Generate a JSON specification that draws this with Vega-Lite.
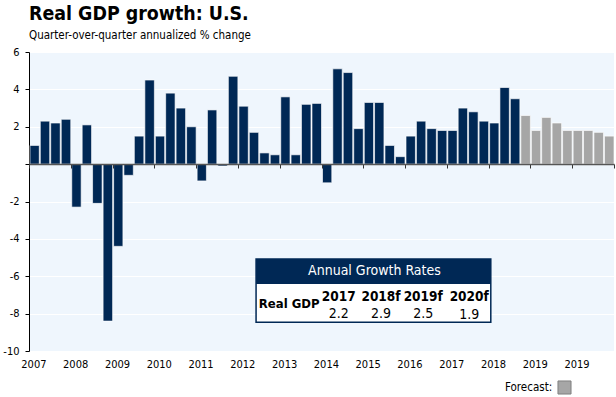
{
  "$schema": "https://vega.github.io/schema/vega-lite/v6.json",
  "width": 585,
  "height": 299,
  "autosize": "none",
  "padding": {"left": 29, "top": 52, "right": 2, "bottom": 46},
  "background": "white",
  "config": {
    "view": {"fill": "#EFF6FD", "stroke": null},
    "font": "DejaVu Sans Condensed"
  },
  "title": {
    "text": "Real GDP growth: U.S.",
    "subtitle": "Quarter-over-quarter  annualized % change",
    "anchor": "start",
    "frame": "group",
    "font": "DejaVu Sans Condensed",
    "fontSize": 19.4,
    "fontWeight": "bold",
    "color": "black",
    "subtitleFont": "DejaVu Sans Condensed",
    "subtitleFontSize": 11.5,
    "subtitleColor": "black",
    "subtitlePadding": 6,
    "offset": 3.5
  },
  "layer": [
    {
      "data": {
        "values": [
          {"date": "2007-01-01", "gdp": 1.0, "type": "Actual"},
          {"date": "2007-04-01", "gdp": 2.3, "type": "Actual"},
          {"date": "2007-07-01", "gdp": 2.2, "type": "Actual"},
          {"date": "2007-10-01", "gdp": 2.4, "type": "Actual"},
          {"date": "2008-01-01", "gdp": -2.3, "type": "Actual"},
          {"date": "2008-04-01", "gdp": 2.1, "type": "Actual"},
          {"date": "2008-07-01", "gdp": -2.1, "type": "Actual"},
          {"date": "2008-10-01", "gdp": -8.4, "type": "Actual"},
          {"date": "2009-01-01", "gdp": -4.4, "type": "Actual"},
          {"date": "2009-04-01", "gdp": -0.6, "type": "Actual"},
          {"date": "2009-07-01", "gdp": 1.5, "type": "Actual"},
          {"date": "2009-10-01", "gdp": 4.5, "type": "Actual"},
          {"date": "2010-01-01", "gdp": 1.5, "type": "Actual"},
          {"date": "2010-04-01", "gdp": 3.8, "type": "Actual"},
          {"date": "2010-07-01", "gdp": 3.0, "type": "Actual"},
          {"date": "2010-10-01", "gdp": 2.0, "type": "Actual"},
          {"date": "2011-01-01", "gdp": -0.9, "type": "Actual"},
          {"date": "2011-04-01", "gdp": 2.9, "type": "Actual"},
          {"date": "2011-07-01", "gdp": -0.1, "type": "Actual"},
          {"date": "2011-10-01", "gdp": 4.7, "type": "Actual"},
          {"date": "2012-01-01", "gdp": 3.1, "type": "Actual"},
          {"date": "2012-04-01", "gdp": 1.7, "type": "Actual"},
          {"date": "2012-07-01", "gdp": 0.6, "type": "Actual"},
          {"date": "2012-10-01", "gdp": 0.5, "type": "Actual"},
          {"date": "2013-01-01", "gdp": 3.6, "type": "Actual"},
          {"date": "2013-04-01", "gdp": 0.5, "type": "Actual"},
          {"date": "2013-07-01", "gdp": 3.2, "type": "Actual"},
          {"date": "2013-10-01", "gdp": 3.25, "type": "Actual"},
          {"date": "2014-01-01", "gdp": -1.0, "type": "Actual"},
          {"date": "2014-04-01", "gdp": 5.1, "type": "Actual"},
          {"date": "2014-07-01", "gdp": 4.9, "type": "Actual"},
          {"date": "2014-10-01", "gdp": 1.9, "type": "Actual"},
          {"date": "2015-01-01", "gdp": 3.3, "type": "Actual"},
          {"date": "2015-04-01", "gdp": 3.3, "type": "Actual"},
          {"date": "2015-07-01", "gdp": 1.0, "type": "Actual"},
          {"date": "2015-10-01", "gdp": 0.4, "type": "Actual"},
          {"date": "2016-01-01", "gdp": 1.5, "type": "Actual"},
          {"date": "2016-04-01", "gdp": 2.3, "type": "Actual"},
          {"date": "2016-07-01", "gdp": 1.9, "type": "Actual"},
          {"date": "2016-10-01", "gdp": 1.8, "type": "Actual"},
          {"date": "2017-01-01", "gdp": 1.8, "type": "Actual"},
          {"date": "2017-04-01", "gdp": 3.0, "type": "Actual"},
          {"date": "2017-07-01", "gdp": 2.8, "type": "Actual"},
          {"date": "2017-10-01", "gdp": 2.3, "type": "Actual"},
          {"date": "2018-01-01", "gdp": 2.2, "type": "Actual"},
          {"date": "2018-04-01", "gdp": 4.1, "type": "Actual"},
          {"date": "2018-07-01", "gdp": 3.5, "type": "Actual"},
          {"date": "2018-10-01", "gdp": 2.6, "type": "Forecast"},
          {"date": "2019-01-01", "gdp": 1.8, "type": "Forecast"},
          {"date": "2019-04-01", "gdp": 2.5, "type": "Forecast"},
          {"date": "2019-07-01", "gdp": 2.2, "type": "Forecast"},
          {"date": "2019-10-01", "gdp": 1.8, "type": "Forecast"},
          {"date": "2020-01-01", "gdp": 1.8, "type": "Forecast"},
          {"date": "2020-04-01", "gdp": 1.8, "type": "Forecast"},
          {"date": "2020-07-01", "gdp": 1.7, "type": "Forecast"},
          {"date": "2020-10-01", "gdp": 1.5, "type": "Forecast"}
        ]
      },
      "mark": {"type": "bar", "stroke": "white", "strokeWidth": 0.8, "strokeOpacity": 0.8},
      "encoding": {
        "x": {
          "field": "date",
          "timeUnit": "utcyearquarter",
          "type": "temporal",
          "scale": {
            "type": "utc",
            "nice": false,
            "domain": [
              {"year": 2007, "month": 1, "date": 1, "utc": true},
              {"year": 2021, "month": 1, "date": 1, "utc": true}
            ]
          },
          "axis": {
            "title": null,
            "tickCount": 30,
            "values": [
              {"year": 2007, "month": 1, "date": 1, "utc": true},
              {"year": 2008, "month": 1, "date": 1, "utc": true},
              {"year": 2009, "month": 1, "date": 1, "utc": true},
              {"year": 2010, "month": 1, "date": 1, "utc": true},
              {"year": 2011, "month": 1, "date": 1, "utc": true},
              {"year": 2012, "month": 1, "date": 1, "utc": true},
              {"year": 2013, "month": 1, "date": 1, "utc": true},
              {"year": 2014, "month": 1, "date": 1, "utc": true},
              {"year": 2015, "month": 1, "date": 1, "utc": true},
              {"year": 2016, "month": 1, "date": 1, "utc": true},
              {"year": 2017, "month": 1, "date": 1, "utc": true},
              {"year": 2018, "month": 1, "date": 1, "utc": true},
              {"year": 2019, "month": 1, "date": 1, "utc": true},
              {"year": 2020, "month": 1, "date": 1, "utc": true},
              {"year": 2021, "month": 1, "date": 1, "utc": true}
            ],
            "labelExpr": "utcyear(datum.value) >= 2021 ? '' : (utcyear(datum.value) == 2020 ? '2019' : '' + utcyear(datum.value))",
            "offset": -187,
            "tickSize": 4,
            "tickColor": "#333333",
            "domainColor": "#555555",
            "domainWidth": 1.5,
            "labelPadding": 190,
            "labelOffset": 4.4,
            "labelFont": "DejaVu Sans Condensed",
            "labelFontSize": 11,
            "labelColor": "black",
            "labelOverlap": false,
            "labelFlush": false,
            "labelBound": false,
            "grid": false,
            "zindex": 1
          }
        },
        "y": {
          "field": "gdp",
          "type": "quantitative",
          "scale": {"domain": [-10, 6], "nice": false},
          "axis": {
            "title": null,
            "tickCount": 30,
            "values": [-10, -8, -6, -4, -2, 0, 2, 4, 6],
            "labelExpr": "datum.value == 0 ? '' : '' + datum.value",
            "labelOverlap": false,
            "labelFlush": false,
            "grid": true,
            "gridColor": "white",
            "gridWidth": 1.2,
            "tickSize": 4,
            "tickColor": "black",
            "domainColor": "black",
            "labelPadding": 6,
            "labelFont": "DejaVu Sans Condensed",
            "labelFontSize": 11,
            "labelColor": "black"
          }
        },
        "color": {
          "field": "type",
          "type": "nominal",
          "scale": {"domain": ["Actual", "Forecast"], "range": ["#002855", "#A6A6A6"]},
          "legend": {
            "values": ["Forecast"],
            "title": "Forecast:",
            "titleOrient": "left",
            "labelExpr": "''",
            "orient": "none",
            "legendX": 476,
            "legendY": 328,
            "symbolType": "square",
            "symbolSize": 170,
            "symbolStrokeColor": "#7f7f7f",
            "symbolStrokeWidth": 1,
            "titleFont": "DejaVu Sans Condensed",
            "titleFontSize": 11.5,
            "titleFontWeight": "normal",
            "titleColor": "black",
            "titlePadding": 4
          }
        }
      }
    },
    {
      "data": {"values": [{"title": "Annual Growth Rates"}]},
      "mark": {"type": "rect", "fill": "white", "stroke": "#002855", "strokeWidth": 1.5},
      "encoding": {
        "x": {"datum": {"year": 2012, "month": 6, "date": 8, "utc": true}, "type": "temporal"},
        "x2": {"datum": {"year": 2018, "month": 1, "date": 20, "utc": true}},
        "y": {"datum": -5.08, "type": "quantitative"},
        "y2": {"datum": -8.46}
      }
    },
    {
      "data": {"values": [{"title": "Annual Growth Rates"}]},
      "mark": {"type": "rect", "fill": "#002855"},
      "encoding": {
        "x": {"datum": {"year": 2012, "month": 6, "date": 8, "utc": true}, "type": "temporal"},
        "x2": {"datum": {"year": 2018, "month": 1, "date": 20, "utc": true}},
        "y": {"datum": -5.08, "type": "quantitative"},
        "y2": {"datum": -6.42}
      }
    },
    {
      "data": {"values": [{"title": "Annual Growth Rates"}]},
      "mark": {"type": "text", "color": "white", "fontSize": 14, "font": "DejaVu Sans Condensed", "align": "center", "baseline": "middle"},
      "encoding": {
        "x": {"datum": {"year": 2015, "month": 4, "date": 9, "utc": true}, "type": "temporal"},
        "y": {"datum": -5.74, "type": "quantitative"},
        "text": {"field": "title"}
      }
    },
    {
      "data": {"values": [{"row": "Real GDP"}]},
      "mark": {"type": "text", "color": "black", "fontSize": 13, "fontWeight": "bold", "font": "DejaVu Sans Condensed", "align": "left", "baseline": "middle"},
      "encoding": {
        "x": {"datum": {"year": 2012, "month": 7, "date": 2, "utc": true}, "type": "temporal"},
        "y": {"datum": -7.46, "type": "quantitative"},
        "text": {"field": "row"}
      }
    },
    {
      "data": {"values": [{"year": "2017", "rate": 2.2}]},
      "encoding": {"x": {"datum": {"year": 2014, "month": 6, "date": 1, "utc": true}, "type": "temporal"}},
      "layer": [
        {"mark": {"type": "text", "color": "black", "fontSize": 13.5, "fontWeight": "bold", "font": "DejaVu Sans Condensed", "baseline": "middle"},
         "encoding": {"y": {"datum": -7.12, "type": "quantitative"}, "text": {"field": "year"}}},
        {"mark": {"type": "text", "color": "black", "fontSize": 14, "font": "DejaVu Sans Condensed", "baseline": "middle"},
         "encoding": {"y": {"datum": -8.0, "type": "quantitative"}, "text": {"field": "rate", "format": ".1f"}}}
      ]
    },
    {
      "data": {"values": [{"year": "2018f", "rate": 2.9}]},
      "encoding": {"x": {"datum": {"year": 2015, "month": 6, "date": 5, "utc": true}, "type": "temporal"}},
      "layer": [
        {"mark": {"type": "text", "color": "black", "fontSize": 13.5, "fontWeight": "bold", "font": "DejaVu Sans Condensed", "baseline": "middle"},
         "encoding": {"y": {"datum": -7.12, "type": "quantitative"}, "text": {"field": "year"}}},
        {"mark": {"type": "text", "color": "black", "fontSize": 14, "font": "DejaVu Sans Condensed", "baseline": "middle"},
         "encoding": {"y": {"datum": -8.0, "type": "quantitative"}, "text": {"field": "rate", "format": ".1f"}}}
      ]
    },
    {
      "data": {"values": [{"year": "2019f", "rate": 2.5}]},
      "encoding": {"x": {"datum": {"year": 2016, "month": 6, "date": 8, "utc": true}, "type": "temporal"}},
      "layer": [
        {"mark": {"type": "text", "color": "black", "fontSize": 13.5, "fontWeight": "bold", "font": "DejaVu Sans Condensed", "baseline": "middle"},
         "encoding": {"y": {"datum": -7.12, "type": "quantitative"}, "text": {"field": "year"}}},
        {"mark": {"type": "text", "color": "black", "fontSize": 14, "font": "DejaVu Sans Condensed", "baseline": "middle"},
         "encoding": {"y": {"datum": -8.0, "type": "quantitative"}, "text": {"field": "rate", "format": ".1f"}}}
      ]
    },
    {
      "data": {"values": [{"year": "2020f", "rate": 1.9}]},
      "encoding": {"x": {"datum": {"year": 2017, "month": 7, "date": 15, "utc": true}, "type": "temporal"}},
      "layer": [
        {"mark": {"type": "text", "color": "black", "fontSize": 13.5, "fontWeight": "bold", "font": "DejaVu Sans Condensed", "baseline": "middle"},
         "encoding": {"y": {"datum": -7.12, "type": "quantitative"}, "text": {"field": "year"}}},
        {"mark": {"type": "text", "color": "black", "fontSize": 14, "font": "DejaVu Sans Condensed", "baseline": "middle"},
         "encoding": {"y": {"datum": -8.1, "type": "quantitative"}, "text": {"field": "rate", "format": ".1f"}}}
      ]
    }
  ]
}
